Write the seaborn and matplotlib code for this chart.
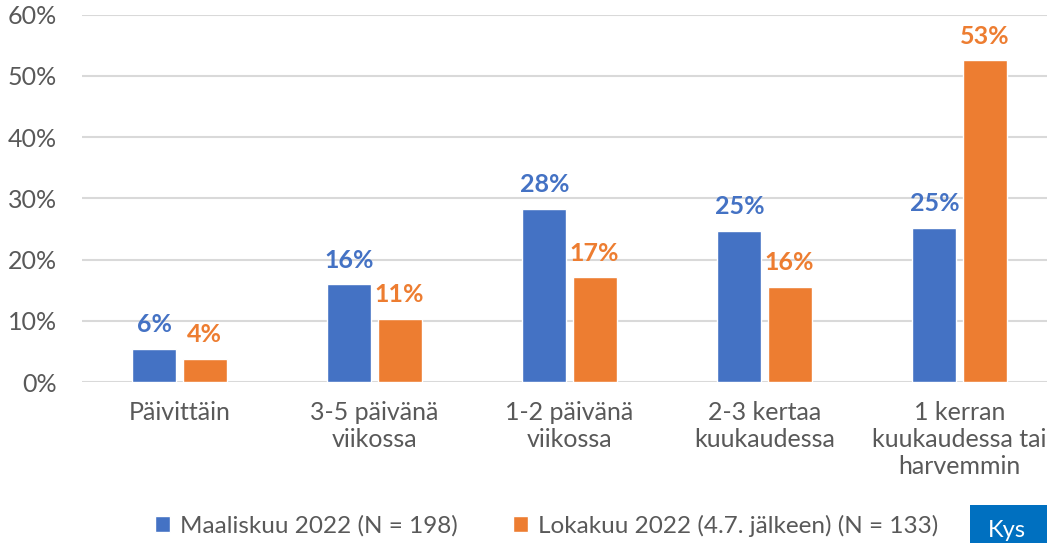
import pandas as pd
import seaborn as sns
import matplotlib.pyplot as plt
from matplotlib.patches import Patch, Rectangle
from matplotlib.ticker import PercentFormatter

categories = ['Päivittäin', '3-5 päivänä\nviikossa', '1-2 päivänä\nviikossa',
              '2-3 kertaa\nkuukaudessa', '1 kerran\nkuukaudessa tai\nharvemmin']
series = ['Maaliskuu 2022 (N = 198)', 'Lokakuu 2022 (4.7. jälkeen) (N = 133)']
march = [5.4, 16.0, 28.3, 24.7, 25.2]
october = [3.8, 10.3, 17.1, 15.6, 52.6]
labels_march = ['6%', '16%', '28%', '25%', '25%']
labels_october = ['4%', '11%', '17%', '16%', '53%']
colors = ['#4472C4', '#ED7D31']

df = pd.DataFrame({
    'kategoria': categories * 2,
    'sarja': [series[0]] * 5 + [series[1]] * 5,
    'osuus': march + october,
})

sns.set_theme(style='white')
plt.rcParams['font.family'] = ['Lato', 'DejaVu Sans']

fig = plt.figure(figsize=(10.47, 5.43), dpi=100)
ax = fig.add_axes([82 / 1047, 1 - 382 / 543, 975 / 1047, (382 - 14.7) / 543])

sns.barplot(data=df, x='kategoria', y='osuus', hue='sarja', palette=colors,
            width=0.513, gap=0.12, saturation=1, legend=False, ax=ax)

for cont, labs, col in zip(ax.containers, [labels_march, labels_october], colors):
    ax.bar_label(cont, labels=labs, padding=9, color=col, fontsize=18, fontweight='bold')

ax.set_ylim(0, 60)
ax.set_yticks(range(0, 61, 10))
ax.yaxis.set_major_formatter(PercentFormatter(decimals=0))
ax.grid(axis='y', color='#D9D9D9', linewidth=1.5)
ax.set_axisbelow(True)
sns.despine(ax=ax, left=True, bottom=True, top=True, right=True)
ax.set_xlabel('')
ax.set_ylabel('')
ax.tick_params(axis='y', length=0, pad=18, labelsize=18, labelcolor='#595959')
ax.tick_params(axis='x', length=0, pad=14, labelsize=18, labelcolor='#595959')

handles = [Patch(facecolor=c) for c in colors]
fig.legend(handles, series, loc='center', bbox_to_anchor=(0.522, 0.032), ncol=2,
           frameon=False, fontsize=17.5, labelcolor='#595959', handlelength=0.6,
           handleheight=0.6, handletextpad=0.4, columnspacing=2.3)

fig.patches.append(Rectangle((970 / 1047, 0), 0.1, 38 / 543, transform=fig.transFigure,
                             facecolor='#0070C0', edgecolor='none'))
fig.text(988 / 1047, 0.004, 'Kys', color='white', fontsize=17, va='bottom')

fig.savefig('out.png', dpi=100)
